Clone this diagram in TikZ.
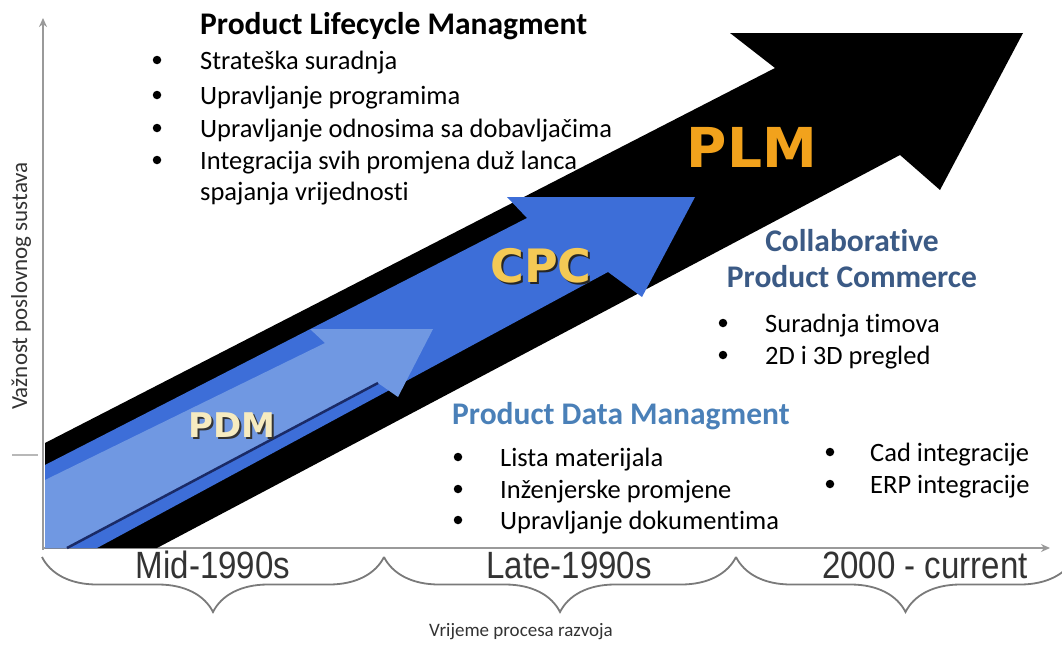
\documentclass[tikz,border=0pt]{standalone}
\usepackage{fontspec}
\setmainfont{Carlito}[Ligatures=NoCommon]
\newfontfamily\arialf{Liberation Sans}
\newfontfamily\blackf{DejaVu Sans}
\usetikzlibrary{decorations.pathreplacing,arrows.meta}
\definecolor{axisgray}{HTML}{9A9A9A}
\definecolor{bracegray}{HTML}{7A7A7A}
\definecolor{cpcblue}{HTML}{3D6ED8}
\definecolor{pdmblue}{HTML}{7098E2}
\definecolor{navyline}{HTML}{1A2A66}
\definecolor{cpcbrown}{HTML}{3B5A85}
\definecolor{pdmhead}{HTML}{4A80B8}
\definecolor{plmorange}{HTML}{F2A21C}
\definecolor{cpcgold}{HTML}{F4C955}
\definecolor{pdmcream}{HTML}{F6EBC0}
\definecolor{labelgray}{HTML}{333333}
\begin{document}
\begin{tikzpicture}[x=1pt,y=-1pt,
  bul/.style={circle, fill=black, inner sep=0pt, minimum size=8.5pt},
  btxt/.style={anchor=base west, inner sep=0pt, font=\fontsize{26.5}{30}\selectfont},
  head/.style={anchor=base west, inner sep=0pt, font=\fontsize{31.5}{36}\selectfont\bfseries},
  headc/.style={anchor=base, inner sep=0pt, font=\fontsize{31.5}{36}\selectfont\bfseries, text=cpcbrown},
  era/.style={anchor=base, inner sep=0pt, xscale=0.87, font=\arialf\fontsize{38}{42}\selectfont, text=labelgray},
  axislbl/.style={inner sep=0pt, text=labelgray},
  abbr/.style={inner sep=0pt},
  brc/.style={draw=bracegray, line width=1.8pt, decorate, decoration={brace, mirror, amplitude=55pt}},
  axisline/.style={draw=axisgray, line width=2pt, -{Stealth[length=9pt,width=8pt]}}
]
\useasboundingbox[fill=white] (0,0) rectangle (1062,645);

% axes
\coordinate (O) at (43,550);
\coordinate (ytop) at (43,18);
\coordinate (xend) at (1050,548);
\coordinate (xstart) at (43,548);
\draw[axisline] (O) -- (ytop);
\draw[axisline] (xstart) -- (xend);
\coordinate (t1) at (12,455);
\coordinate (t2) at (38,455);
\draw[draw=axisgray!70, line width=1.5pt] (t1) -- (t2);

% black PLM arrow
\fill[black] (45,443) -- (775,68) -- (730,33) -- (1023,33) -- (940,190) -- (900,155) -- (157,548) -- (45,548) -- cycle;
% CPC arrow
\fill[cpcblue] (45,465) -- (527,218) -- (507,197) -- (695,197) -- (642,297) -- (608,272) -- (97,548) -- (45,548) -- cycle;
% PDM arrow
\fill[pdmblue] (45,480) -- (325,343) -- (310,329) -- (433,329) -- (398,397) -- (378,383) -- (67,548) -- (45,548) -- cycle;
\coordinate (pdmA) at (67,548);
\coordinate (pdmB) at (378,383);
\draw[navyline, line width=2.5pt] (pdmA) -- (pdmB);

% abbreviations
\node[abbr, text=black!80, font=\blackf\bfseries\fontsize{34}{40}\selectfont] (pdms) at (234,427) {PDM};
\node[abbr, text=pdmcream, font=\blackf\bfseries\fontsize{34}{40}\selectfont] (pdm) at (232,425) {PDM};
\node[abbr, text=black!85, font=\blackf\bfseries\fontsize{46}{52}\selectfont] (cpcs) at (543,268) {CPC};
\node[abbr, text=cpcgold, font=\blackf\bfseries\fontsize{46}{52}\selectfont] (cpc) at (541,266) {CPC};
\node[abbr, text=plmorange, font=\blackf\bfseries\fontsize{55}{64}\selectfont] (plm) at (752,147) {PLM};

% PLM text block
\node[head] (plmh) at (200,34) {Product Lifecycle Managment};
\foreach \y/\t [count=\i] in {69/Strateška suradnja, 104/Upravljanje programima, 137/Upravljanje odnosima sa dobavljačima, 169/Integracija svih promjena duž lanca} {
  \node[bul] (pb\i) at (157,\y-9) {};
  \node[btxt] (pt\i) at (200,\y) {\t};
}
\node[btxt] (pt5) at (200,200) {spajanja vrijednosti};

% CPC text block
\node[headc] (cpch1) at (852,251) {Collaborative};
\node[headc] (cpch2) at (852,287) {Product Commerce};
\node[bul] (cb1) at (723,323) {};
\node[btxt] (ct1) at (765,332) {Suradnja timova};
\node[bul] (cb2) at (723,355) {};
\node[btxt] (ct2) at (765,364) {2D i 3D pregled};

% PDM text block
\node[head, text=pdmhead] (pdmh) at (452,424) {Product Data Managment};
\foreach \y/\t [count=\i] in {466/Lista materijala, 498/Inženjerske promjene, 529/Upravljanje dokumentima} {
  \node[bul] (db\i) at (458,\y-9) {};
  \node[btxt] (dt\i) at (500,\y) {\t};
}
\foreach \y/\t [count=\i] in {461/Cad integracije, 493/ERP integracije} {
  \node[bul] (eb\i) at (830,\y-9) {};
  \node[btxt] (et\i) at (870,\y) {\t};
}

% braces
\coordinate (b0) at (42,557);
\coordinate (b1) at (384,557);
\coordinate (b2) at (736,557);
\coordinate (b3) at (1075,557);
\draw[brc] (b0) -- (b1);
\draw[brc] (b1) -- (b2);
\draw[brc] (b2) -- (b3);

% era labels
\node[era] (e1) at (213,578) {Mid-1990s};
\node[era] (e2) at (569,578) {Late-1990s};
\node[era] (e3) at (925,578) {2000 - current};

% axis titles
\node[axislbl, font=\fontsize{19}{22}\selectfont] (xl) at (521,632) {Vrijeme procesa razvoja};
\node[axislbl, rotate=90, font=\fontsize{23}{26}\selectfont] (yl) at (21,286) {Važnost poslovnog sustava};
\end{tikzpicture}
\end{document}
